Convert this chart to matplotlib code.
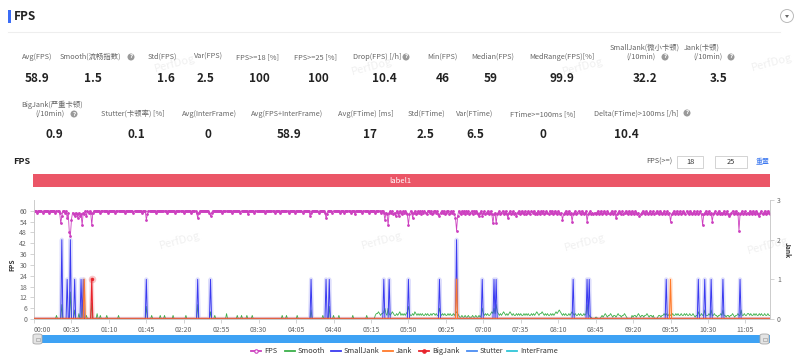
import numpy as np
import matplotlib
matplotlib.use("Agg")
import matplotlib.pyplot as plt
from matplotlib.patches import Rectangle, FancyBboxPatch, Ellipse, Polygon
from matplotlib.lines import Line2D

plt.rcParams['font.family'] = ['Noto Sans CJK SC', 'DejaVu Sans']

W, H = 800, 356

# ---- summary numbers ----
row1_labels = ["Avg(FPS)", "Smooth(流畅指数)", "Std(FPS)", "Var(FPS)", "FPS>=18 [%]",
               "FPS>=25 [%]", "Drop(FPS) [/h]", "Min(FPS)", "Median(FPS)",
               "MedRange(FPS)[%]", "SmallJank(微小卡顿)|(/10min)", "Jank(卡顿)|(/10min)"]
row1_values = ["58.9", "1.5", "1.6", "2.5", "100", "100", "10.4", "46", "59", "99.9", "32.2", "3.5"]
row2_labels = ["BigJank(严重卡顿)|(/10min)", "Stutter(卡顿率) [%]", "Avg(InterFrame)",
               "Avg(FPS+InterFrame)", "Avg(FTime) [ms]", "Std(FTime)", "Var(FTime)",
               "FTime>=100ms [%]", "Delta(FTime)>100ms [/h]"]
row2_values = ["0.9", "0.1", "0", "58.9", "17", "2.5", "6.5", "0", "10.4"]

# ---- per second series (index = seconds from start) ----
fps = [
    60, 60, 60, 59, 60, 60, 60, 60, 59, 60, 60, 60, 60, 60, 59, 60, 60, 60, 60, 60, 59, 60, 60, 60, 59, 53, 57, 60, 60, 59,
    60, 56, 59, 48, 46, 55, 59, 58, 57, 59, 58, 56, 59, 57, 58, 52, 59, 58, 60, 57, 60, 59, 60, 59, 52, 59, 60, 60, 60, 60,
    60, 60, 59, 60, 60, 60, 60, 60, 60, 59, 60, 60, 60, 60, 60, 60, 59, 60, 60, 60, 60, 60, 60, 60, 60, 59, 60, 60, 60, 60,
    60, 60, 60, 59, 60, 60, 60, 60, 60, 60, 60, 59, 60, 60, 60, 55, 58, 60, 60, 60, 60, 60, 60, 60, 59, 60, 60, 60, 60, 60,
    60, 60, 60, 60, 59, 60, 60, 60, 60, 60, 60, 60, 59, 60, 60, 60, 60, 60, 60, 60, 59, 60, 60, 60, 60, 60, 60, 59, 60, 60,
    60, 60, 59, 56, 59, 60, 60, 60, 60, 60, 60, 60, 60, 60, 59, 57, 59, 60, 60, 60, 60, 60, 60, 60, 60, 60, 59, 60, 60, 60,
    60, 60, 60, 60, 60, 59, 60, 60, 60, 60, 60, 60, 60, 59, 60, 60, 60, 60, 60, 60, 58, 60, 60, 60, 60, 60, 59, 60, 60, 60,
    60, 60, 60, 60, 60, 60, 59, 60, 60, 60, 60, 60, 60, 60, 60, 59, 60, 60, 60, 60, 59, 60, 60, 60, 60, 60, 60, 60, 59, 60,
    60, 60, 60, 60, 59, 60, 60, 60, 60, 60, 60, 59, 60, 60, 60, 60, 60, 60, 57, 59, 60, 60, 60, 60, 60, 60, 59, 60, 60, 60,
    60, 60, 59, 56, 58, 60, 60, 60, 60, 59, 60, 60, 60, 60, 60, 60, 59, 60, 60, 60, 59, 60, 60, 60, 60, 60, 59, 60, 60, 60,
    58, 60, 60, 60, 60, 60, 60, 59, 60, 60, 60, 60, 60, 59, 60, 60, 60, 60, 60, 59, 60, 60, 60, 60, 59, 60, 60, 59, 55, 59,
    58, 52, 59, 60, 59, 60, 58, 59, 57, 60, 59, 57, 60, 59, 58, 60, 59, 60, 59, 58, 52, 58, 60, 59, 56, 59, 60, 58, 59, 60,
    59, 60, 58, 60, 59, 60, 59, 58, 60, 60, 59, 60, 58, 59, 60, 60, 59, 60, 58, 57, 59, 60, 59, 60, 58, 59, 60, 60, 58, 59,
    60, 59, 60, 58, 56, 49, 57, 60, 59, 58, 60, 59, 60, 58, 60, 59, 60, 58, 59, 60, 58, 60, 59, 60, 59, 58, 57, 59, 60, 57,
    59, 60, 58, 59, 60, 58, 59, 60, 58, 53, 58, 59, 53, 58, 59, 60, 58, 59, 60, 58, 59, 60, 58, 56, 59, 60, 58, 59, 60, 58,
    59, 57, 59, 60, 58, 59, 60, 59, 58, 60, 58, 59, 60, 59, 58, 60, 59, 60, 58, 59, 58, 60, 59, 58, 60, 59, 60, 58, 59, 60,
    59, 58, 60, 59, 60, 58, 59, 60, 59, 58, 60, 59, 58, 59, 55, 58, 59, 60, 58, 59, 60, 58, 59, 54, 58, 59, 60, 58, 59, 60,
    59, 58, 60, 59, 58, 59, 60, 54, 58, 59, 60, 58, 59, 58, 59, 58, 59, 60, 58, 59, 60, 58, 59, 60, 59, 58, 60, 59, 58, 59,
    60, 58, 59, 60, 56, 58, 59, 60, 59, 58, 60, 58, 59, 60, 59, 58, 60, 59, 58, 60, 59, 58, 60, 59, 58, 59, 57, 58, 59, 60,
    59, 58, 60, 59, 58, 59, 60, 58, 59, 60, 58, 59, 60, 59, 58, 60, 59, 58, 59, 60, 58, 59, 60, 58, 59, 54, 58, 59, 60, 58,
    59, 60, 58, 59, 60, 58, 59, 60, 59, 58, 60, 59, 58, 60, 59, 58, 59, 60, 58, 59, 60, 58, 59, 60, 58, 52, 58, 59, 60, 58,
    59, 60, 58, 59, 54, 58, 59, 60, 58, 59, 60, 58, 59, 58, 59, 60, 58, 59, 60, 58, 57, 58, 59, 60, 58, 59, 60, 58, 59, 49,
    58, 59, 60, 58, 59, 60, 58, 59, 58, 60, 59, 58, 60, 59, 58, 60, 59, 58, 57, 59, 60, 58, 59, 60, 58, 59, 60, 59, 58,
]

# jank events: second -> count
small_jank_t = [26, 31, 34, 38, 44, 46, 105, 153, 165, 259, 273, 276, 327, 332, 350, 379, 395,
                419, 430, 432, 504, 517, 519, 591, 621, 627, 633, 644, 660]
small_jank_v = [2, 1, 2, 1, 1, 1, 1, 1, 1, 1, 1, 1, 1, 1, 1, 1, 2,
                1, 1, 1, 1, 1, 1, 1, 1, 1, 1, 1, 1]
jank_t = [47, 395, 595]
jank_v = [1, 1, 1]
big_jank_t = [54]
big_jank_v = [1]

# smooth: isolated bumps + continuous stretches
smooth_bump_t = [21, 26, 34, 38, 42, 45, 49, 54, 59, 62, 68, 79, 105, 110, 118, 122, 130, 142,
                 153, 165, 169, 180, 190, 194, 199, 204, 232, 236, 246, 259, 270, 276, 280, 285, 298, 311]
smooth_bump_v = [2, 8, 15, 5, 3, 8, 2, 9, 3, 2, 2, 2, 7, 2, 2, 2, 2, 2,
                 8, 4, 2, 3, 2, 2, 2, 2, 2, 2, 2, 5, 2, 7, 2, 2, 2, 2]
smooth_run1_start = 319
smooth_run1 = [2, 3, 3, 4, 3, 2, 3, 3, 4, 6, 3, 2, 6, 3, 2, 3, 4, 3, 2, 2,
               3, 2, 3, 4, 2, 3, 2, 3, 2, 3, 4, 7, 3, 2, 2, 3, 2, 4, 3, 2,
               3, 2, 3, 2, 3, 2, 2, 3, 2, 3, 2, 2, 3, 2, 3, 3, 2, 3, 2, 2,
               6, 3, 2, 3, 2, 3, 2, 2, 3, 2, 3, 2, 2, 3, 2, 3, 4, 3, 2, 1,
               1, 2, 1, 1, 2, 1, 1, 2, 1, 1, 1, 2, 1, 1, 2, 1, 1, 2, 1, 2,
               6, 3, 2, 3, 2, 3, 2, 2, 3, 4, 3, 6, 3, 8, 4, 3, 2, 3, 2, 3,
               4, 3, 2, 3, 2, 3, 4, 3, 2, 3, 2, 2, 3]
smooth_run2_start = 452
smooth_run2 = [2, 3, 2, 3, 2, 2, 3, 2, 3, 2, 3, 2, 2, 3, 2, 3, 2, 3, 4, 3,
               2, 3, 3, 4, 3, 2, 3, 2, 3, 2, 2, 3, 2, 3, 2, 3, 4, 3, 4, 5,
               4, 3, 2, 3, 2, 3, 2, 2, 3, 2, 3, 4, 3, 2, 3, 2, 2, 3, 2, 3,
               2, 2, 3, 2, 3, 8, 3, 2, 1, 1, 0, 0, 0, 1, 1, 0, 0, 0, 1, 2,
               1, 2, 3, 2, 1, 2, 2, 3, 2, 1, 2, 2, 1, 2, 3, 2, 2, 1, 2, 2,
               3, 2, 1, 0, 0, 0, 0, 2, 1, 2, 2, 1, 2, 3, 2, 1, 2, 2, 1, 2,
               2, 3, 2, 1, 2, 2, 1, 2, 0, 0, 0, 1, 2, 2, 1, 2, 2, 3, 2, 3,
               2, 2, 3, 2, 2, 3, 2, 2, 3, 2, 3, 2, 2, 3, 2, 2, 3, 2, 3, 2,
               2, 3, 2, 2, 3, 2, 1, 2, 2, 4, 2, 2, 3, 2, 2, 5, 2, 2, 2, 3,
               2, 5, 2, 2, 3, 2, 2, 1, 2, 2, 3, 2, 5, 2, 2, 1, 2, 2, 1, 2,
               2, 3, 2, 1, 2, 2, 3, 2, 2, 5, 2, 2, 3, 2, 2, 3, 3, 2, 3, 2,
               2, 3, 2, 3, 2, 2, 3, 2, 3, 2, 2, 3, 2, 2, 3, 2, 2]

tick_labels = ["00:00", "00:35", "01:10", "01:45", "02:20", "02:55", "03:30", "04:05", "04:40", "05:15",
               "05:50", "06:25", "07:00", "07:35", "08:10", "08:45", "09:20", "09:55", "10:30", "11:05"]
legend_names = ["FPS", "Smooth", "SmallJank", "Jank", "BigJank", "Stutter", "InterFrame"]
colors = ["#cc3fbf", "#3cb04a", "#3a3af0", "#ff7a2a", "#e8242c", "#4a8cf2", "#2fc5d8"]


def fx(x):
    return x / W


def fy(y):
    return 1 - y / H


def events(n, ts, vs):
    arr = np.zeros(n)
    arr[ts] = vs
    return arr


n = len(fps)
t = np.arange(n)
small_jank = events(n, small_jank_t, small_jank_v)
jank = events(n, jank_t, jank_v)
big_jank = events(n, big_jank_t, big_jank_v)
smooth = np.zeros(n)
smooth[smooth_run1_start:smooth_run1_start + len(smooth_run1)] = smooth_run1
smooth[smooth_run2_start:smooth_run2_start + len(smooth_run2)] = smooth_run2
smooth[smooth_bump_t] = np.maximum(smooth[smooth_bump_t], smooth_bump_v)
stutter = np.zeros(n)
interframe = np.zeros(n)

fig = plt.figure(figsize=(W / 100, H / 100), dpi=100)
fig.patch.set_facecolor("white")

# ---- header ----
fig.add_artist(Rectangle((fx(8), fy(23)), 2.5 / W, 13 / H, transform=fig.transFigure,
                         color="#3b6cf6", lw=0))
fig.text(fx(14), fy(17), "FPS", fontsize=8.5, weight="bold", color="#222", va="center")
fig.add_artist(Line2D([fx(8), fx(780)], [fy(32), fy(32)], transform=fig.transFigure,
                      color="#eeeeee", lw=0.8))
fig.add_artist(Ellipse((fx(787), fy(16)), 13 / W, 13 / H, transform=fig.transFigure,
                       fc="white", ec="#bbbbbb", lw=0.7))
fig.add_artist(Polygon([[fx(785), fy(15)], [fx(789), fy(15)], [fx(787), fy(18)]],
                       closed=True, transform=fig.transFigure, color="#666", lw=0))


def help_icon(x, y):
    fig.add_artist(Ellipse((fx(x), fy(y)), 7 / W, 7 / H, transform=fig.transFigure,
                           fc="#9a9a9a", ec="none"))
    fig.text(fx(x), fy(y), "?", fontsize=4, color="white", ha="center", va="center",
             weight="bold", family="DejaVu Sans")


lab_kw = dict(fontsize=5.3, color="#666666", ha="center", va="center")
val_kw = dict(fontsize=8.5, color="#222222", ha="center", va="center", weight="bold")


def stat_label(lab, x, y, x2):
    # two-line labels: first line above, second at the regular label row
    if "|" in lab:
        top, bottom = lab.split("|")
        fig.text(fx(x), fy(y - 9), top, **lab_kw)
        fig.text(fx(x2), fy(y), bottom, **lab_kw)
    else:
        fig.text(fx(x), fy(y), lab, **lab_kw)


row1_lx = [37, 90, 162, 208, 258, 316, 377, 442, 493, 562, 645, 702]
row1_lx2 = [37, 90, 162, 208, 258, 316, 377, 442, 493, 562, 641, 708]
row1_vx = [37, 93, 166, 206, 259, 318, 384, 443, 491, 562, 645, 719]
for lab, val, lx, lx2, vx in zip(row1_labels, row1_values, row1_lx, row1_lx2, row1_vx):
    stat_label(lab, lx, 57, lx2)
    fig.text(fx(vx), fy(78), val, **val_kw)
for x, y in [(131, 57), (406, 57), (665, 57), (731, 57)]:
    help_icon(x, y)

row2_lx = [52, 133, 209, 287, 366, 426, 475, 543, 636]
row2_lx2 = [50, 133, 209, 287, 366, 426, 475, 543, 636]
row2_vx = [54, 136, 208, 289, 370, 426, 475, 543, 626]
for lab, val, lx, lx2, vx in zip(row2_labels, row2_values, row2_lx, row2_lx2, row2_vx):
    stat_label(lab, lx, 114, lx2)
    fig.text(fx(vx), fy(135), val, **val_kw)
for x, y in [(74, 114), (687, 113)]:
    help_icon(x, y)

# watermarks
for x, y in [(175, 63), (372, 66), (583, 66), (772, 62), (180, 240), (382, 240), (585, 242), (768, 245)]:
    fig.text(fx(x), fy(y), "PerfDog", fontsize=8, color="#f0f0f0", rotation=15,
             ha="center", va="center", zorder=-5)

# ---- chart header ----
fig.text(fx(13), fy(162), "FPS", fontsize=6.5, weight="bold", color="#222", va="center")
fig.text(fx(672), fy(162), "FPS(>=)", fontsize=5.3, color="#555", ha="right", va="center")
for x0, x1, s in [(677, 703, "18"), (715, 747, "25")]:
    fig.add_artist(Rectangle((fx(x0), fy(168)), (x1 - x0) / W, 12 / H, transform=fig.transFigure,
                             fc="white", ec="#cccccc", lw=0.6))
    fig.text(fx((x0 + x1) / 2), fy(162), s, fontsize=5.3, color="#333", ha="center", va="center")
fig.text(fx(763), fy(162), "重置", fontsize=5, color="#3c78f0", ha="center", va="center")

fig.add_artist(Rectangle((fx(33), fy(187)), (770 - 33) / W, 13 / H, transform=fig.transFigure,
                         color="#eb5667", lw=0))
fig.text(fx(400), fy(180.5), "label1", fontsize=5.5, color="white", ha="center", va="center")

# ---- plot ----
ax = fig.add_axes([fx(34), fy(319), (770 - 34) / W, (319 - 200) / H])
ax.patch.set_alpha(0)
ax2 = ax.twinx()

ax.plot(t, fps, color=colors[0], lw=0.6, marker="o", ms=1.0, zorder=5)
ax.plot(t, smooth, color=colors[1], lw=0.6, zorder=3)

ax2.plot(t, small_jank, color=colors[2], lw=3.0, alpha=0.16, zorder=2)
ax2.plot(t, small_jank, color=colors[2], lw=0.7, zorder=3)
ax2.plot(t, stutter, color=colors[5], lw=0.7, zorder=3)
ax2.plot(t, interframe, color=colors[6], lw=0.7, zorder=3)
ax2.plot(t, big_jank, color=colors[4], lw=3.0, alpha=0.16, zorder=3)
ax2.plot(t, big_jank, color=colors[4], lw=0.8, zorder=4)
ax2.plot(t, jank, color=colors[3], lw=3.0, alpha=0.16, zorder=3)
ax2.plot(t, jank, color=colors[3], lw=0.8, zorder=4)
pk = big_jank_t[0]
ax2.scatter([pk], [big_jank[pk]], s=30, color=colors[4], alpha=0.25, lw=0, zorder=6)
ax2.scatter([pk], [big_jank[pk]], s=6, color=colors[4], lw=0, zorder=7)

ax.set_xlim(0, n - 1)
ax.set_ylim(0, 66)
ax.set_yticks(range(0, 61, 6))
ax2.set_ylim(0, 3)
ax2.set_yticks([0, 1, 2, 3])

ticks = np.arange(0, 35 * len(tick_labels), 35)
ax.set_xticks(ticks)
ax.set_xticklabels(tick_labels)
ax.get_xticklabels()[0].set_horizontalalignment("left")

for a in (ax, ax2):
    a.tick_params(labelsize=5, colors="#666666", length=3, width=0.6, pad=2)
    a.tick_params(axis="both", color="#cccccc")
    a.spines["top"].set_visible(False)
    for s in ("left", "right", "bottom"):
        a.spines[s].set_color("#cccccc")
        a.spines[s].set_linewidth(0.6)
ax.spines["bottom"].set_color("#aaaaaa")

fig.text(fx(12), fy(265), "FPS", fontsize=4.8, weight="bold", color="#333", rotation=90,
         ha="center", va="center")
fig.text(fx(787), fy(250), "Jank", fontsize=4.8, weight="bold", color="#333", rotation=-90,
         ha="center", va="center")

# ---- slider ----
fig.add_artist(Rectangle((fx(33), fy(343)), (770 - 33) / W, 8 / H, transform=fig.transFigure,
                         color="#3ea2f4", lw=0))
for x0 in (33, 760):
    fig.add_artist(FancyBboxPatch((fx(x0), fy(344)), 9 / W, 10 / H, transform=fig.transFigure,
                                  boxstyle="round,pad=0,rounding_size=0.004",
                                  fc="#e4e4e4", ec="#a8a8a8", lw=0.6))
    fig.add_artist(Rectangle((fx(x0 + 2.5), fy(340.5)), 4 / W, 3 / H, transform=fig.transFigure,
                             fc="none", ec="#999", lw=0.4))

# ---- legend ----
leg_icon_x = [256, 290, 336, 388, 424, 472, 512]
for name, c, ix in zip(legend_names, colors, leg_icon_x):
    fig.add_artist(Line2D([fx(ix - 5), fx(ix + 5)], [fy(351), fy(351)], transform=fig.transFigure,
                          color=c, lw=1.3))
    if name in ("FPS", "BigJank"):
        fig.add_artist(Line2D([fx(ix)], [fy(351)], transform=fig.transFigure, marker="o",
                              ms=2.5, color=c, mfc="white" if name == "FPS" else c, mew=0.8))
    fig.text(fx(ix + 8), fy(351), name, fontsize=5.3, color="#333", va="center")

fig.savefig("out.png", dpi=100)
